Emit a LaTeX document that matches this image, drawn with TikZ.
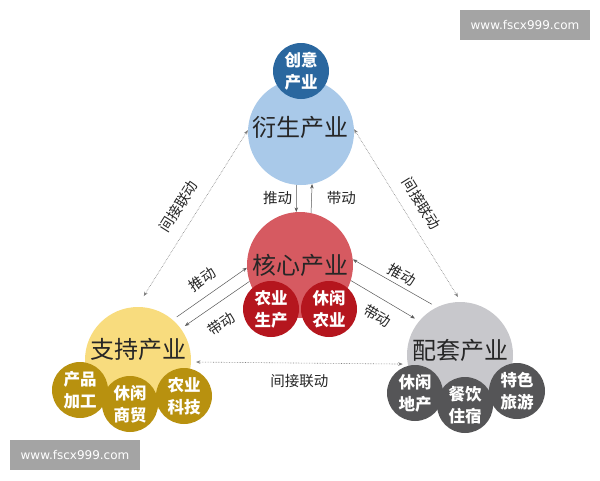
\documentclass[tikz,border=0pt]{standalone}
\usepackage{fontspec}
\newfontfamily\cjk{Noto Sans CJK SC}
\newfontfamily\wmfont{DejaVu Sans}
\usetikzlibrary{positioning,arrows.meta}

\definecolor{creablue}{HTML}{2A679F}
\definecolor{derivblue}{HTML}{A9C9E9}
\definecolor{corered}{HTML}{D65A61}
\definecolor{corered2}{HTML}{B5161E}
\definecolor{suppyel}{HTML}{F8DC7E}
\definecolor{suppyel2}{HTML}{B8910F}
\definecolor{matgray}{HTML}{C8C8CC}
\definecolor{matgray2}{HTML}{555557}
\definecolor{wmgray}{HTML}{A4A4A4}

\tikzset{
  bigcircle/.style={circle, inner sep=0pt, minimum size=106pt},
  smallcircle/.style={circle, inner sep=0pt, minimum size=56pt, text=white,
    font=\cjk\bfseries\fontsize{16.5}{22}\selectfont, align=center},
  mainlabel/.style={font=\cjk\fontsize{24}{28}\selectfont, text=black!85, inner sep=1pt},
  arrowlabel/.style={font=\cjk\fontsize{14.5}{16}\selectfont, text=black!85, inner sep=2pt},
  pusharrow/.style={draw=black!65, line width=0.5pt},
  linkarrow/.style={<->, draw=black!50, densely dotted, line width=0.6pt},
  watermark/.style={fill=wmgray, text=white, font=\wmfont\fontsize{12}{14}\selectfont,
    minimum width=130pt, minimum height=30pt, inner sep=0pt}
}

\begin{document}
\begin{tikzpicture}[x=1pt,y=-1pt,>={Stealth[length=4.5pt,width=3.5pt]}]
  \useasboundingbox (0,0) rectangle (600,480);
  \fill[white] (0,0) rectangle (600,480);

  % Circles
  \node[bigcircle, fill=derivblue] (deriv) at (301,132) {};
  \node[smallcircle, fill=creablue] (crea) at (301,71) {创意\\产业};
  \node[mainlabel] (derivtext) at (300,127) {衍生产业};

  \node[bigcircle, fill=corered] (core) at (300,265) {};
  \node[mainlabel] (coretext) at (300,265) {核心产业};
  \node[smallcircle, fill=corered2] (coreprod) at (271,309) {农业\\生产};
  \node[smallcircle, fill=corered2] (coreleis) at (329,309) {休闲\\农业};

  \node[bigcircle, fill=suppyel, outer sep=5pt] (supp) at (138,360) {};
  \node[mainlabel] (supptext) at (138,349) {支持产业};
  \node[smallcircle, fill=suppyel2] (suppproc) at (80,390) {产品\\加工};
  \node[smallcircle, fill=suppyel2] (supptech) at (184,396) {农业\\科技};
  \node[smallcircle, fill=suppyel2] (supptrade) at (130,404) {休闲\\商贸};

  \node[bigcircle, fill=matgray, outer sep=5pt] (mat) at (460,355) {};
  \node[mainlabel] (mattext) at (460,350) {配套产业};
  \node[smallcircle, fill=matgray2] (matreal) at (415,393) {休闲\\地产};
  \node[smallcircle, fill=matgray2] (mattour) at (517,391) {特色\\旅游};
  \node[smallcircle, fill=matgray2] (matfood) at (465,405) {餐饮\\住宿};

  % Push / drive arrows
  \draw[pusharrow,->] (deriv.265) -- (core.94)
    node[arrowlabel, midway, left=2pt] {推动};
  \draw[pusharrow,->] (core.78) -- (deriv.282)
    node[arrowlabel, midway, right=13pt] {带动};

  \draw[pusharrow,->] (supp.48) -- (core.183)
    node[arrowlabel, midway, above, sloped, yshift=7pt] {推动};
  \draw[pusharrow,<-] (supp.36) -- (core.198.7)
    node[arrowlabel, pos=.4, below, sloped, yshift=-10pt] {带动};

  \draw[pusharrow,<-] (core.6.2) -- (mat.119.5)
    node[arrowlabel, pos=.55, above, sloped, yshift=2pt] {推动};
  \draw[pusharrow,->] (core.343) -- (mat.141.3)
    node[arrowlabel, pos=.55, below, sloped, yshift=-8pt] {带动};

  % Indirect links
  \draw[linkarrow, shorten <=7pt] (supp.88) -- (deriv.178)
    node[arrowlabel, midway, above, sloped, yshift=9pt] {间接联动};
  \draw[linkarrow] (deriv.3) -- (mat.92)
    node[arrowlabel, midway, above, sloped, yshift=9pt] {间接联动};
  \draw[linkarrow] (supp.358) -- (mat.189.5)
    node[arrowlabel, midway, below=9pt] {间接联动};

  % Watermarks
  \node[watermark] (wmtop) at (525,25) {www.fscx999.com};
  \node[watermark] (wmbot) at (75,455) {www.fscx999.com};
\end{tikzpicture}
\end{document}
